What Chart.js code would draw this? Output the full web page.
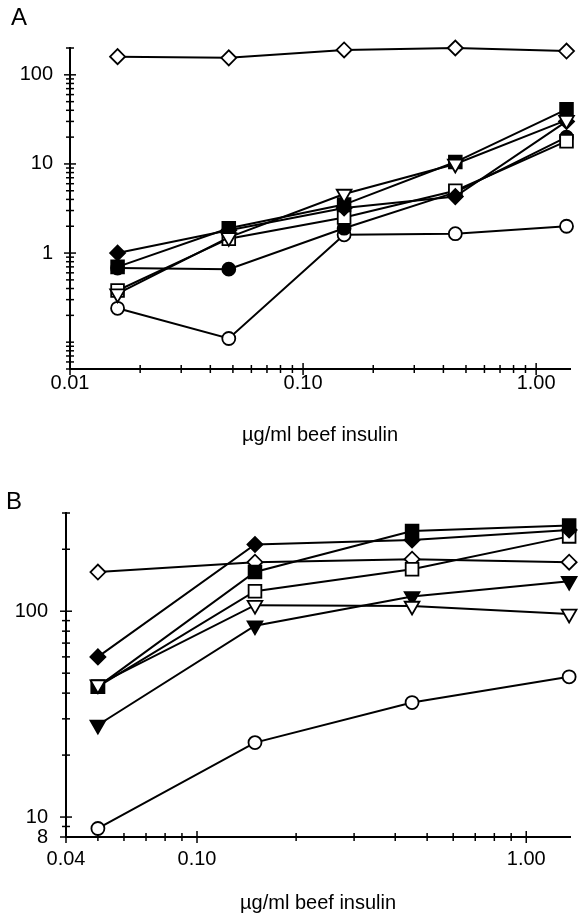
<!DOCTYPE html>
<html>
<head>
<meta charset="utf-8">
<script src="https://cdn.jsdelivr.net/npm/chart.js@4"></script>
<style>
  body { margin: 0; background: #fff; }
  #page { position: relative; width: 581px; height: 917px; overflow: hidden; }
  .panel { position: absolute; left: 0; width: 581px; }
  .letter { position: absolute; font: 24px "Liberation Sans", Arial, sans-serif; color: #000; }
</style>
</head>
<body>
<div id="page">
  <div class="panel" style="top:0;height:455px;"><canvas id="chartA" width="581" height="455"></canvas></div>
  <div class="panel" style="top:455px;height:462px;"><canvas id="chartB" width="581" height="462"></canvas></div>
  <div class="letter" style="left:11px;top:3px;">A</div>
  <div class="letter" style="left:6px;top:487px;">B</div>
</div>
<script>
const FONT = '"Liberation Sans", Arial, sans-serif';

// Panel A: dose (ug/ml beef insulin) and responses
const doseA = [0.016, 0.048, 0.15, 0.45, 1.35];
const openDiamondA = [160, 155, 190, 200, 185];
const openCircleA = [0.24, 0.11, 1.6, 1.65, 2.0];
const filledCircleA = [0.68, 0.66, 1.9, 4.8, 20];
const openSquareA = [0.38, 1.45, 2.5, 5.0, 18];
const filledDiamondA = [1.0, 1.8, 3.2, 4.3, 30];
const filledSquareA = [0.7, 1.9, 3.5, 10.5, 41];
const openTriangleA = [0.35, 1.5, 4.6, 10, 31];

// Panel B
const doseB = [0.05, 0.15, 0.45, 1.35];
const openDiamondB = [155, 173, 179, 173];
const openCircleB = [8.8, 23, 36, 48];
const filledTriangleB = [28, 85, 118, 140];
const openSquareB = [43, 125, 160, 231];
const filledDiamondB = [60, 211, 222, 248];
const filledSquareB = [43, 155, 245, 261];
const openTriangleB = [44, 107, 106, 97];

// Axis ticks and labels
const xTicksA = [0.01, 0.02, 0.03, 0.04, 0.05, 0.06, 0.07, 0.08, 0.09, 0.1, 0.2, 0.3, 0.4, 0.5, 0.6, 0.7, 0.8, 0.9, 1];
const xLabelValuesA = [0.01, 0.1, 1];
const xLabelsA = ['0.01', '0.10', '1.00'];
const yTicksA = [0.05, 0.06, 0.07, 0.08, 0.09, 0.1, 0.2, 0.3, 0.4, 0.5, 0.6, 0.7, 0.8, 0.9, 1, 2, 3, 4, 5, 6, 7, 8, 9, 10, 20, 30, 40, 50, 60, 70, 80, 90, 100, 200];
const yLabelValuesA = [1, 10, 100];
const yLabelsA = ['1', '10', '100'];

const xTicksB = [0.04, 0.05, 0.06, 0.07, 0.08, 0.09, 0.1, 0.2, 0.3, 0.4, 0.5, 0.6, 0.7, 0.8, 0.9, 1];
const xLabelValuesB = [0.04, 0.1, 1];
const xLabelsB = ['0.04', '0.10', '1.00'];
const yTicksB = [8, 9, 10, 20, 30, 40, 50, 60, 70, 80, 90, 100, 200, 300];
const yLabelValuesB = [8, 10, 100];
const yLabelsB = ['8', '10', '100'];

const xTitle = 'µg/ml beef insulin';

const radius = { rectRot: 7.5, circle: 6.5, rect: 9, triangle: 8.5 };

function series(xs, ys, shape, filled, rotation) {
  return {
    data: ys.map((v, i) => ({ x: xs[i], y: v })),
    showLine: true,
    borderColor: '#000',
    borderWidth: 2,
    pointStyle: shape,
    pointRotation: rotation || 0,
    pointRadius: radius[shape],
    pointBackgroundColor: filled ? '#000' : '#fff',
    pointBorderColor: '#000',
    pointBorderWidth: 1.8,
    clip: false
  };
}

function labelFor(v, values, labels) {
  for (let i = 0; i < values.length; i++) {
    if (Math.abs(v - values[i]) / values[i] < 1e-6) return labels[i];
  }
  return '';
}

function axis(o) {
  return {
    type: 'logarithmic',
    min: o.min,
    max: o.max,
    grid: { display: false, drawTicks: false },
    border: { display: true, color: '#000', width: 2 },
    afterBuildTicks: s => { s.ticks = o.ticks.map(v => ({ value: v })); },
    afterFit: s => { if (o.vertical) s.width = o.size; else s.height = o.size; },
    ticks: {
      autoSkip: false,
      maxRotation: 0,
      padding: o.padding,
      color: '#000',
      font: { family: FONT, size: 20 },
      callback: v => labelFor(v, o.labelValues, o.labels)
    },
    title: o.title
      ? { display: true, text: o.title, color: '#000', font: { family: FONT, size: 20 }, padding: { top: 0, bottom: o.titlePad } }
      : { display: false }
  };
}

// little tick marks that cross the axis lines, like the original figure
const crossTicks = {
  id: 'crossTicks',
  beforeDatasetsDraw(chart) {
    const ctx = chart.ctx;
    const area = chart.chartArea;
    const xs = chart.scales.x;
    const ys = chart.scales.y;
    ctx.save();
    ctx.strokeStyle = '#000';
    ctx.lineWidth = 1.5;
    xs.ticks.forEach(t => {
      const px = xs.getPixelForValue(t.value);
      const len = t.label ? 6 : 4;
      ctx.beginPath();
      ctx.moveTo(px, area.bottom - len);
      ctx.lineTo(px, area.bottom + len);
      ctx.stroke();
    });
    ys.ticks.forEach(t => {
      const py = ys.getPixelForValue(t.value);
      const len = t.label ? 6 : 4;
      ctx.beginPath();
      ctx.moveTo(area.left - len, py);
      ctx.lineTo(area.left + len, py);
      ctx.stroke();
    });
    ctx.restore();
  }
};

function makeChart(id, datasets, padding, xAxis, yAxis) {
  return new Chart(document.getElementById(id).getContext('2d'), {
    type: 'scatter',
    data: { datasets: datasets },
    options: {
      responsive: false,
      animation: false,
      layout: { padding: padding },
      plugins: { legend: { display: false }, tooltip: { enabled: false } },
      scales: { x: xAxis, y: yAxis }
    },
    plugins: [crossTicks]
  });
}

// Chart.js paints the first dataset last, so the topmost marks come first
makeChart('chartA', [
  series(doseA, openTriangleA, 'triangle', false, 180),
  series(doseA, filledSquareA, 'rect', true),
  series(doseA, filledDiamondA, 'rectRot', true),
  series(doseA, openSquareA, 'rect', false),
  series(doseA, filledCircleA, 'circle', true),
  series(doseA, openCircleA, 'circle', false),
  series(doseA, openDiamondA, 'rectRot', false)
], { top: 48, right: 3, left: 0, bottom: 0 },
  axis({ min: 0.01, max: 1.4, ticks: xTicksA, labelValues: xLabelValuesA, labels: xLabelsA, size: 86, padding: 2, title: xTitle, titlePad: 8 }),
  axis({ min: 0.05, max: 200, ticks: yTicksA, labelValues: yLabelValuesA, labels: yLabelsA, size: 70, padding: 17, vertical: true })
);

makeChart('chartB', [
  series(doseB, openTriangleB, 'triangle', false, 180),
  series(doseB, filledSquareB, 'rect', true),
  series(doseB, filledDiamondB, 'rectRot', true),
  series(doseB, openSquareB, 'rect', false),
  series(doseB, filledTriangleB, 'triangle', true, 180),
  series(doseB, openCircleB, 'circle', false),
  series(doseB, openDiamondB, 'rectRot', false)
], { top: 58, right: 8, left: 0, bottom: 0 },
  axis({ min: 0.04, max: 1.36, ticks: xTicksB, labelValues: xLabelValuesB, labels: xLabelsB, size: 80, padding: 10, title: xTitle, titlePad: 2 }),
  axis({ min: 8, max: 300, ticks: yTicksB, labelValues: yLabelValuesB, labels: yLabelsB, size: 66, padding: 18, vertical: true })
);
</script>
</body>
</html>
